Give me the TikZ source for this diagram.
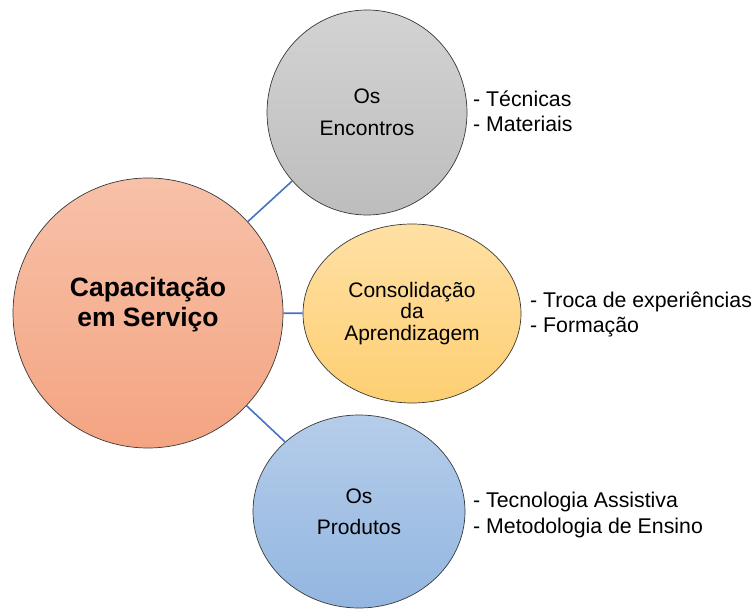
\documentclass[tikz,border=0pt]{standalone}
\usepackage{fontspec}
\setmainfont{Liberation Sans}
\usepackage{tikz}
\usetikzlibrary{shapes.geometric}

\definecolor{linkblue}{HTML}{4472C4}
\definecolor{capTop}{HTML}{F7C1A8}
\definecolor{capBot}{HTML}{F4A482}
\definecolor{encTop}{HTML}{D3D3D3}
\definecolor{encBot}{HTML}{BDBDBD}
\definecolor{conTop}{HTML}{FFE0A4}
\definecolor{conBot}{HTML}{FDCF72}
\definecolor{proTop}{HTML}{B5CDEA}
\definecolor{proBot}{HTML}{93B6E0}

\begin{document}
\begin{tikzpicture}[x=1pt, y=-1pt,
  every node/.style={font=\fontsize{21}{25.5}\selectfont, inner sep=0pt},
  bubble/.style={ellipse, draw=gray!45!black, line width=0.7pt, align=center},
  itemlist/.style={anchor=base west, align=left, font=\fontsize{21.3}{25.5}\selectfont},
  link/.style={draw=linkblue, line width=1.6pt}]
  \useasboundingbox (0,0) rectangle (752,609);
  \node[bubble, minimum width=270, minimum height=270, top color=capTop, bottom color=capBot] (cap) at (148,313) {};
  \node[font=\bfseries\fontsize{26.5}{30}\selectfont, align=center] (captxt) at (148,305) {Capacita\c{c}\~ao\\em Servi\c{c}o};
  \node[bubble, minimum width=200, minimum height=205, top color=encTop, bottom color=encBot, font=\fontsize{21}{32}\selectfont] (enc) at (367,112.5) {Os\\Encontros};
  \node[bubble, minimum width=218, minimum height=179, top color=conTop, bottom color=conBot, font=\fontsize{21}{21.5}\selectfont] (con) at (412,313.5) {Consolida\c{c}\~ao\\da\\Aprendizagem};
  \node[bubble, minimum width=212, minimum height=193, top color=proTop, bottom color=proBot, font=\fontsize{21}{31}\selectfont] (pro) at (359,511.5) {Os\\Produtos};
  \draw[link] (cap) -- (enc);
  \draw[link] (cap) -- (con);
  \draw[link] (cap) -- (pro);
  \node[itemlist] (enclist) at (473,132) {- T\'ecnicas\\- Materiais};
  \node[itemlist] (conlist) at (530,333) {- Troca de experi\^encias\\- Forma\c{c}\~ao};
  \node[itemlist] (prolist) at (473,533) {- Tecnologia Assistiva\\- Metodologia de Ensino};
\end{tikzpicture}
\end{document}
